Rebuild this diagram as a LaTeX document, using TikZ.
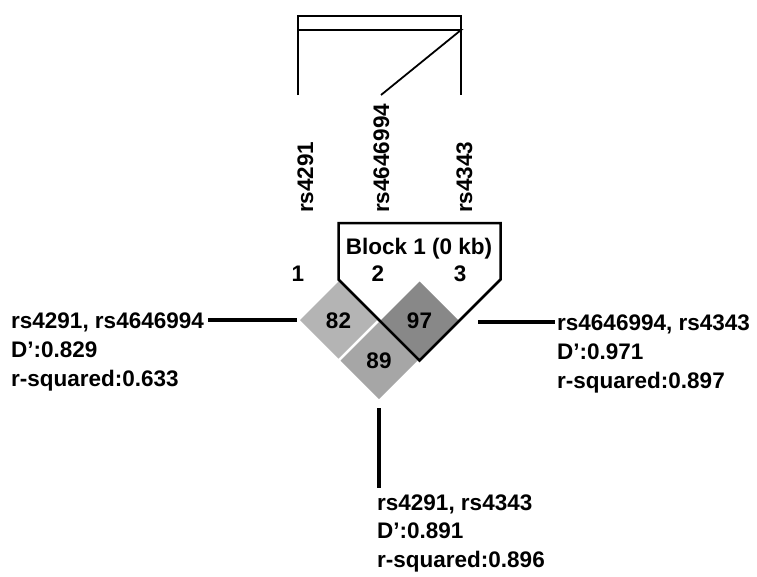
\documentclass[tikz,border=0pt]{standalone}
\usepackage{fontspec}
\setmainfont{Liberation Sans}
\usetikzlibrary{calc}
\definecolor{cA}{HTML}{B4B4B4}
\definecolor{cB}{HTML}{888888}
\definecolor{cC}{HTML}{A6A6A6}
\begin{document}
\begin{tikzpicture}[x=1pt,y=-1pt,
  txt/.style={font=\bfseries\fontsize{22.5}{27}\selectfont, inner sep=0pt, anchor=base west},
  num/.style={font=\bfseries\fontsize{22.5}{27}\selectfont, inner sep=0pt, anchor=base},
  snp/.style={font=\bfseries\fontsize{22.5}{27}\selectfont, inner sep=0pt, anchor=base west, rotate=90},
  frame/.style={line width=1.8pt},
  blk/.style={line width=2.5pt, line join=miter},
  conn/.style={line width=3.5pt}]
\useasboundingbox (0,0) rectangle (757,576);
\fill[white] (0,0) rectangle (757,576);

% top marker structure
\coordinate (tl) at (298,16); \coordinate (tr) at (461,16);
\coordinate (ml) at (298,30); \coordinate (mr) at (461,30);
\coordinate (bl) at (298,95); \coordinate (br) at (461,95);
\coordinate (bm) at (381,95);
\draw[frame] (bl) -- (tl) -- (tr) -- (br);
\draw[frame] (ml) -- (mr) -- (bm);

% SNP names
\node[snp] (s1) at (313,213) {rs4291};
\node[snp] (s2) at (389,213) {rs4646994};
\node[snp] (s3) at (472,213) {rs4343};

% LD cells
\coordinate (c82) at (338.5,320);
\coordinate (c97) at (419.5,320);
\coordinate (c89) at (379,360.5);
\fill[cA] (c82) +(0,-38.5) -- +(38.5,0) -- +(0,38.5) -- +(-38.5,0) -- cycle;
\fill[cB] (c97) +(0,-38.5) -- +(38.5,0) -- +(0,38.5) -- +(-38.5,0) -- cycle;
\fill[cC] (c89) +(0,-38.5) -- +(38.5,0) -- +(0,38.5) -- +(-38.5,0) -- cycle;
\node[num] (n82) at ($(c82)+(0,8)$) {82};
\node[num] (n97) at ($(c97)+(0,8)$) {97};
\node[num] (n89) at ($(c89)+(0,8)$) {89};

% block outline
\draw[blk] (338.5,223) -- (500.5,223) -- (500.5,279.5) -- (419.5,360.5) -- (338.5,279.5) -- cycle;
\node[num] (blab) at (419,254) {Block 1 (0 kb)};
\node[num] (m1) at (298,281) {1};
\node[num] (m2) at (378,281) {2};
\node[num] (m3) at (460,281) {3};

% left annotation
\node[txt] (L1) at (11,328) {rs4291, rs4646994};
\node[txt] (L2) at (11,357) {D’:0.829};
\node[txt] (L3) at (11,386) {r-squared:0.633};
\coordinate (la) at (208,320);
\coordinate (lb) at (297,320);
\draw[conn] (la) -- (lb);

% right annotation
\node[txt] (R1) at (557,330) {rs4646994, rs4343};
\node[txt] (R2) at (557,359) {D’:0.971};
\node[txt] (R3) at (557,388) {r-squared:0.897};
\coordinate (ra) at (478,322);
\coordinate (rb) at (555,322);
\draw[conn] (ra) -- (rb);

% bottom annotation
\node[txt] (B1) at (377,510) {rs4291, rs4343};
\node[txt] (B2) at (377,538) {D’:0.891};
\node[txt] (B3) at (377,567) {r-squared:0.896};
\coordinate (ba) at (379,408);
\coordinate (bb) at (379,488);
\draw[conn] (ba) -- (bb);
\end{tikzpicture}
\end{document}
